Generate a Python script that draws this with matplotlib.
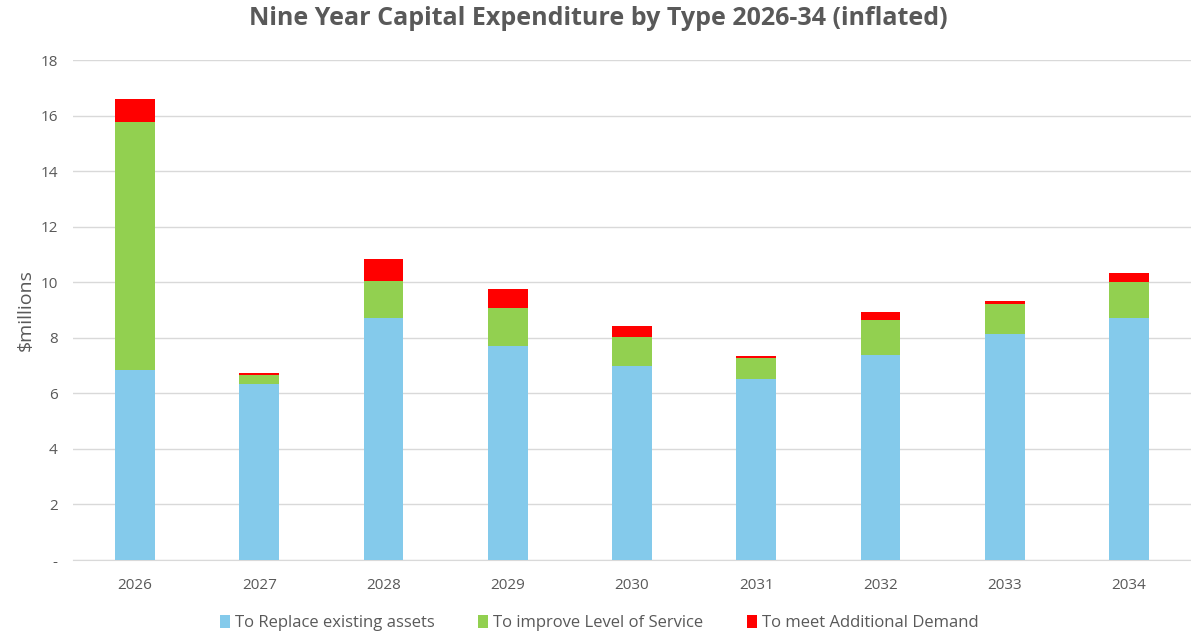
import matplotlib.pyplot as plt
import numpy as np

years = ["2026", "2027", "2028", "2029", "2030", "2031", "2032", "2033", "2034"]
replace = [6.84, 6.34, 8.70, 7.71, 7.00, 6.51, 7.38, 8.15, 8.70]
improve = [8.94, 0.31, 1.33, 1.37, 1.03, 0.75, 1.25, 1.07, 1.30]
demand = [0.81, 0.08, 0.81, 0.68, 0.40, 0.09, 0.30, 0.10, 0.35]

labels = ["To Replace existing assets", "To improve Level of Service", "To meet Additional Demand"]
colors = ["#84CAEB", "#92D050", "#FF0000"]
grey = "#595959"

plt.rcParams["font.family"] = ["Open Sans", "DejaVu Sans"]

fig = plt.figure(figsize=(11.91, 6.35), dpi=100)
ax = fig.add_axes([0.0613, 0.1181, 0.9387, 0.7874])

x = np.arange(len(years))
w = 0.32
bottom = np.zeros(len(years))
for vals, lab, col in zip([replace, improve, demand], labels, colors):
    ax.bar(x, vals, w, bottom=bottom, color=col, label=lab, zorder=3)
    bottom += np.array(vals)

ax.set_xlim(-0.5, len(years) - 0.5)
ax.set_ylim(0, 18)
ax.set_yticks(range(0, 19, 2))
ax.set_yticklabels(["-"] + [str(v) for v in range(2, 19, 2)])
ax.set_xticks(x)
ax.set_xticklabels(years)
ax.yaxis.grid(True, color="#D9D9D9", linewidth=1.0, zorder=0)
ax.tick_params(axis="both", length=0, colors=grey, labelsize=11)
ax.tick_params(axis="y", pad=11)
ax.tick_params(axis="x", pad=13)
for s in ["top", "right", "left"]:
    ax.spines[s].set_visible(False)
ax.spines["bottom"].set_color("#D9D9D9")

ax.set_ylabel("$millions", color=grey, fontsize=14, labelpad=4)
fig.suptitle("Nine Year Capital Expenditure by Type 2026-34 (inflated)",
             x=0.502, y=0.99, color=grey, fontsize=18, fontweight="bold")

fig.legend(loc="lower center", bbox_to_anchor=(0.503, -0.018), ncol=3, frameon=False,
           fontsize=12, labelcolor=grey, handlelength=0.6, handleheight=0.8,
           handletextpad=0.3, columnspacing=2.6)

fig.savefig("out.png", dpi=100)
